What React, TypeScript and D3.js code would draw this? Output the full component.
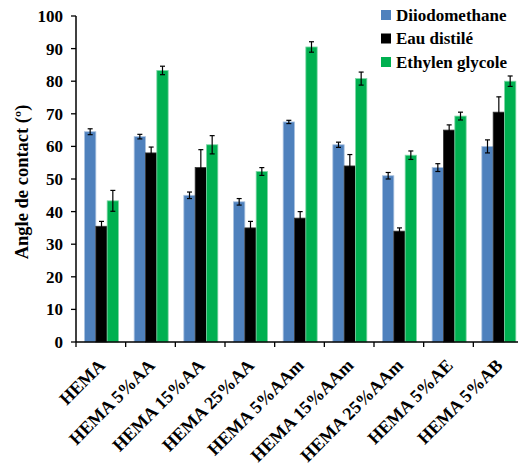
import React from "react";
import * as d3 from "d3";

const categories = ["HEMA", "HEMA 5%AA", "HEMA 15%AA", "HEMA 25%AA", "HEMA 5%AAm", "HEMA 15%AAm", "HEMA 25%AAm", "HEMA 5%AE", "HEMA 5%AB"];
const seriesNames = ["Diiodomethane", "Eau distilé", "Ethylen glycole"];
const diiodomethane = [64.5, 63, 45, 43, 67.5, 60.5, 51, 53.5, 60];
const diiodomethaneErr = [0.9, 0.7, 1, 1, 0.5, 0.8, 1, 1.2, 2];
const eau = [35.5, 58, 53.5, 35, 38, 54, 34, 65, 70.5];
const eauErr = [1.5, 1.8, 5.5, 2, 2, 3.5, 1, 1.6, 4.7];
const ethylen = [43.3, 83.3, 60.5, 52.3, 90.5, 80.8, 57.3, 69.3, 80];
const ethylenErr = [3.2, 1.3, 2.8, 1.2, 1.6, 2, 1.3, 1.2, 1.6];
const yTicks = [0, 10, 20, 30, 40, 50, 60, 70, 80, 90, 100];

const colors = ["#4F81BD", "#000000", "#00B050"];
const edgeColors = ["#A9C1DF", "#333333", "#7FD7A7"];

export default function App() {
  const W = 518, H = 466;
  const x0 = 76, x1 = 523, yTop = 16, yBot = 342;
  const y = d3.scaleLinear().domain([0, 100]).range([yBot, yTop]);
  const x = d3.scaleBand().domain(categories).range([x0, x1]).paddingInner(0).paddingOuter(0);
  const inner = d3.scaleBand().domain(["0", "1", "2"]).range([8.5, 8.5 + 34]);
  const series = [
    { vals: diiodomethane, errs: diiodomethaneErr },
    { vals: eau, errs: eauErr },
    { vals: ethylen, errs: ethylenErr },
  ];
  const font = "Liberation Serif";
  const bounds = categories.map((c) => x(c) as number).concat([x1]);
  return (
    <svg width={W} height={H} style={{ position: "absolute", left: 0, top: 0, background: "#fff" }}>
      {series.map((s, si) =>
        categories.map((c, ci) => {
          const bx = (x(c) as number) + (inner(String(si)) as number);
          const bw = inner.bandwidth();
          const v = s.vals[ci];
          return (
            <rect key={`b${si}-${ci}`} x={bx} y={y(v)} width={bw} height={yBot - y(v)} fill={colors[si]} stroke={edgeColors[si]} strokeWidth={0.8} />
          );
        })
      )}
      {series.map((s, si) =>
        categories.map((c, ci) => {
          const cx = (x(c) as number) + (inner(String(si)) as number) + inner.bandwidth() / 2;
          const v = s.vals[ci], e = s.errs[ci];
          return (
            <g key={`e${si}-${ci}`} stroke="#000" strokeWidth={1.2}>
              <line x1={cx} x2={cx} y1={y(v + e)} y2={y(v - e)} />
              <line x1={cx - 2.5} x2={cx + 2.5} y1={y(v + e)} y2={y(v + e)} />
              <line x1={cx - 2.5} x2={cx + 2.5} y1={y(v - e)} y2={y(v - e)} />
            </g>
          );
        })
      )}
      <g fontFamily={font} fontWeight={700}>
        {/* y axis */}
        <line x1={x0} x2={x0} y1={yTop} y2={yBot} stroke="#000" strokeWidth={1.5} />
        {yTicks.map((t) => (
          <g key={`yt${t}`}>
            <line x1={x0 - 5} x2={x0} y1={y(t)} y2={y(t)} stroke="#000" strokeWidth={1.3} />
            <text x={x0 - 13} y={y(t)} dy="0.35em" textAnchor="end" fontSize={17}>{t}</text>
          </g>
        ))}
        {/* x axis */}
        <line x1={x0} x2={x1} y1={yBot} y2={yBot} stroke="#000" strokeWidth={1.5} />
        {bounds.map((b, i) => (
          <line key={`xt${i}`} x1={b} x2={b} y1={yBot} y2={yBot + 5} stroke="#000" strokeWidth={1.3} />
        ))}
        {categories.map((c) => {
          const cx = (x(c) as number) + x.bandwidth() / 2 + 1;
          return (
            <text key={`xl${c}`} transform={`translate(${cx},${yBot + 20}) rotate(-45)`} textAnchor="end" fontSize={18} dy="0.35em">{c}</text>
          );
        })}
        <text transform={`translate(22,${(yTop + yBot) / 2 + 3}) rotate(-90)`} textAnchor="middle" fontSize={18.5} dy="0.35em">Angle de contact (º)</text>
        {/* legend */}
        {seriesNames.map((n, i) => (
          <g key={`lg${i}`} transform={`translate(381,${15 + i * 23.5})`}>
            <rect x={0} y={-5} width={10} height={10} fill={colors[i]} />
            <text x={15} y={0} dy="0.35em" fontSize={17}>{n}</text>
          </g>
        ))}
      </g>
    </svg>
  );
}
